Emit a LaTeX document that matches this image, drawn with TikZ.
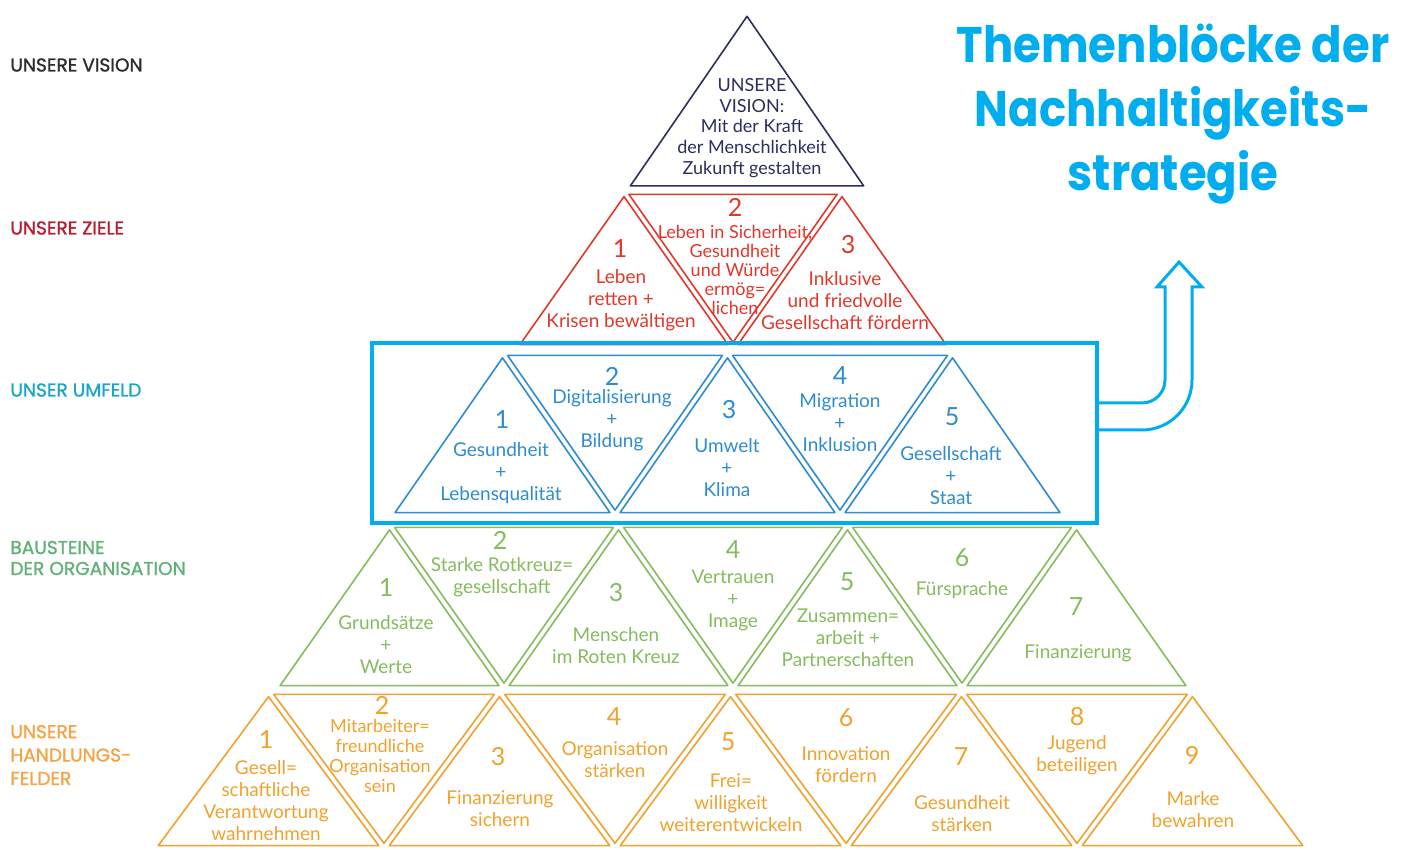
\documentclass[tikz,border=0pt]{standalone}
\usepackage{fontspec}
\newfontfamily\kopffont{Poppins}[FakeBold=1.2]
\newfontfamily\titelfont{Poppins}[FakeStretch=0.9]
\newfontfamily\hand{Lato}

\definecolor{visionblau}{HTML}{2B2F5E}
\definecolor{zielrot}{HTML}{E2382C}
\definecolor{umfeldblau}{HTML}{2E8CCF}
\definecolor{bausteingruen}{HTML}{86BB5E}
\definecolor{feldorange}{HTML}{F0A22E}
\definecolor{labelgrau}{HTML}{2D2D2D}
\definecolor{labelrot}{HTML}{B81C30}
\definecolor{labelblau}{HTML}{1AA6C9}
\definecolor{labelgruen}{HTML}{62B07A}
\definecolor{labelorange}{HTML}{F4A444}
\definecolor{titelblau}{HTML}{00AEEF}

\begin{document}
\begin{tikzpicture}[x=0.5pt, y=-0.5pt,
    ebene/.style={line width=0.8pt, line join=round},
    vision/.style={ebene, draw=visionblau},
    ziel/.style={ebene, draw=zielrot},
    umfeld/.style={ebene, draw=umfeldblau},
    baustein/.style={ebene, draw=bausteingruen},
    feld/.style={ebene, draw=feldorange},
    handtext/.style={align=center, inner sep=0pt,
                     font=\hand\fontsize{9.5}{11}\selectfont},
    engtext/.style={align=center, inner sep=0pt,
                    font=\hand\fontsize{9}{9.5}\selectfont},
    nummer/.style={inner sep=0pt, font=\hand\fontsize{12.5}{13}\selectfont},
    kopf/.style={anchor=west, align=left, inner sep=0pt,
                 font=\kopffont\fontsize{9.3}{10.5}\selectfont},
    themenbox/.style={draw=titelblau, line width=2pt, rectangle,
                      minimum width=362.5pt, minimum height=90pt, inner sep=0pt},
    pfeil/.style={draw=titelblau, line width=1.5pt, line join=miter}
  ]

    \fill[white] (0,0) rectangle (1410,850);
    \useasboundingbox (0,0) rectangle (1410,850);

    % labels on the left
    \node[kopf, text=labelgrau] (lvision) at (10,65) {UNSERE VISION};
    \node[kopf, text=labelrot] (lziele) at (10,228) {UNSERE ZIELE};
    \node[kopf, text=labelblau] (lumfeld) at (10,390) {UNSER UMFELD};
    \node[kopf, text=labelgruen] (lbausteine) at (10,558) {BAUSTEINE\\DER ORGANISATION};
    \node[kopf, text=labelorange, font=\kopffont\fontsize{9.3}{11.7}\selectfont] (lfelder) at (10,755)
        {UNSERE\\HANDLUNGS-\\FELDER};

    % vision
    \draw[vision, scale around={0.98:(747,129.3)}] (628,187) -- (747,14) -- (866,187) -- cycle;
    \node[handtext, text=visionblau, font=\hand\fontsize{9}{10.3}\selectfont] (vtext) at (752,128)
        {UNSERE\\VISION:\\Mit der Kraft\\der Menschlichkeit\\Zukunft gestalten};

    % ziele
    \draw[ziel, scale around={0.955:(624,295.3)}] (515,347) -- (624,192) -- (733,347) -- cycle;
    \draw[ziel, scale around={0.955:(733,243.7)}] (624,192) -- (842,192) -- (733,347) -- cycle;
    \draw[ziel, scale around={0.955:(842,295.3)}] (733,347) -- (842,192) -- (951,347) -- cycle;

    \node[nummer, text=zielrot] (z1n) at (620,249) {1};
    \node[handtext, text=zielrot] (z1) at (621,300) {Leben\\retten +\\Krisen bewältigen};
    \node[nummer, text=zielrot] (z2n) at (735,207) {2};
    \node[engtext, text=zielrot] (z2) at (735,270)
        {Leben in Sicherheit,\\Gesundheit\\und Würde\\ermög=\\lichen};
    \node[nummer, text=zielrot] (z3n) at (848,245) {3};
    \node[handtext, text=zielrot] (z3) at (845,301) {Inklusive\\und friedvolle\\Gesellschaft fördern};

    % umfeld
    \draw[umfeld, scale around={0.955:(502.5,461)}] (390,515) -- (502.5,353) -- (615,515) -- cycle;
    \draw[umfeld, scale around={0.955:(615,407)}] (502.5,353) -- (727.5,353) -- (615,515) -- cycle;
    \draw[umfeld, scale around={0.955:(727.5,461)}] (615,515) -- (727.5,353) -- (840,515) -- cycle;
    \draw[umfeld, scale around={0.955:(840,407)}] (727.5,353) -- (952.5,353) -- (840,515) -- cycle;
    \draw[umfeld, scale around={0.955:(952.5,461)}] (840,515) -- (952.5,353) -- (1065,515) -- cycle;

    \node[nummer, text=umfeldblau] (u1n) at (502,420) {1};
    \node[handtext, text=umfeldblau] (u1) at (501,473) {Gesundheit\\+\\Lebensqualität};
    \node[nummer, text=umfeldblau] (u2n) at (612,376) {2};
    \node[handtext, text=umfeldblau] (u2) at (612,420) {Digitalisierung\\+\\Bildung};
    \node[nummer, text=umfeldblau] (u3n) at (729,410) {3};
    \node[handtext, text=umfeldblau] (u3) at (727,468) {Umwelt\\+\\Klima};
    \node[nummer, text=umfeldblau] (u4n) at (840,376) {4};
    \node[handtext, text=umfeldblau] (u4) at (840,423) {Migration\\+\\Inklusion};
    \node[nummer, text=umfeldblau] (u5n) at (952,417) {5};
    \node[handtext, text=umfeldblau] (u5) at (951,476) {Gesellschaft\\+\\Staat};

    % bausteine
    \draw[baustein, scale around={0.955:(389.5,633.7)}] (275,688) -- (389.5,525) -- (504,688) -- cycle;
    \draw[baustein, scale around={0.955:(504,579.3)}] (389.5,525) -- (618.5,525) -- (504,688) -- cycle;
    \draw[baustein, scale around={0.955:(618.5,633.7)}] (504,688) -- (618.5,525) -- (733,688) -- cycle;
    \draw[baustein, scale around={0.955:(733,579.3)}] (618.5,525) -- (847.5,525) -- (733,688) -- cycle;
    \draw[baustein, scale around={0.955:(847.5,633.7)}] (733,688) -- (847.5,525) -- (962,688) -- cycle;
    \draw[baustein, scale around={0.955:(962,579.3)}] (847.5,525) -- (1076.5,525) -- (962,688) -- cycle;
    \draw[baustein, scale around={0.955:(1076.5,633.7)}] (962,688) -- (1076.5,525) -- (1191,688) -- cycle;

    \node[nummer, text=bausteingruen] (g1n) at (386,588) {1};
    \node[handtext, text=bausteingruen] (g1) at (386,645) {Grundsätze\\+\\Werte};
    \node[nummer, text=bausteingruen] (g2n) at (500,540) {2};
    \node[handtext, text=bausteingruen] (g2) at (502,577) {Starke Rotkreuz=\\gesellschaft};
    \node[nummer, text=bausteingruen] (g3n) at (616,593) {3};
    \node[handtext, text=bausteingruen] (g3) at (616,646) {Menschen\\im Roten Kreuz};
    \node[nummer, text=bausteingruen] (g4n) at (733,550) {4};
    \node[handtext, text=bausteingruen] (g4) at (733,600) {Vertrauen\\+\\Image};
    \node[nummer, text=bausteingruen] (g5n) at (847,582) {5};
    \node[handtext, text=bausteingruen] (g5) at (848,638) {Zusammen=\\arbeit +\\Partnerschaften};
    \node[nummer, text=bausteingruen] (g6n) at (962,558) {6};
    \node[handtext, text=bausteingruen] (g6) at (962,590) {Fürsprache};
    \node[nummer, text=bausteingruen] (g7n) at (1076,607) {7};
    \node[handtext, text=bausteingruen] (g7) at (1078,653) {Finanzierung};

    % handlungsfelder
    \draw[feld, scale around={0.955:(268.5,796)}] (153,848) -- (268.5,692) -- (384,848) -- cycle;
    \draw[feld, scale around={0.955:(384,744)}] (268.5,692) -- (499.5,692) -- (384,848) -- cycle;
    \draw[feld, scale around={0.955:(499.5,796)}] (384,848) -- (499.5,692) -- (615,848) -- cycle;
    \draw[feld, scale around={0.955:(615,744)}] (499.5,692) -- (730.5,692) -- (615,848) -- cycle;
    \draw[feld, scale around={0.955:(730.5,796)}] (615,848) -- (730.5,692) -- (846,848) -- cycle;
    \draw[feld, scale around={0.955:(846,744)}] (730.5,692) -- (961.5,692) -- (846,848) -- cycle;
    \draw[feld, scale around={0.955:(961.5,796)}] (846,848) -- (961.5,692) -- (1077,848) -- cycle;
    \draw[feld, scale around={0.955:(1077,744)}] (961.5,692) -- (1192.5,692) -- (1077,848) -- cycle;
    \draw[feld, scale around={0.955:(1192.5,796)}] (1077,848) -- (1192.5,692) -- (1308,848) -- cycle;

    \node[nummer, text=feldorange] (o1n) at (266,740) {1};
    \node[handtext, text=feldorange] (o1) at (266,801) {Gesell=\\schaftliche\\Verantwortung\\wahrnehmen};
    \node[nummer, text=feldorange] (o2n) at (382,705) {2};
    \node[engtext, text=feldorange, font=\hand\fontsize{9}{10}\selectfont] (o2) at (380,756)
        {Mitarbeiter=\\freundliche\\Organisation\\sein};
    \node[nummer, text=feldorange] (o3n) at (498,757) {3};
    \node[handtext, text=feldorange] (o3) at (500,809) {Finanzierung\\sichern};
    \node[nummer, text=feldorange] (o4n) at (614,717) {4};
    \node[handtext, text=feldorange] (o4) at (615,760) {Organisation\\stärken};
    \node[nummer, text=feldorange] (o5n) at (728,742) {5};
    \node[handtext, text=feldorange] (o5) at (731,803) {Frei=\\willigkeit\\weiterentwickeln};
    \node[nummer, text=feldorange] (o6n) at (846,718) {6};
    \node[handtext, text=feldorange] (o6) at (846,765) {Innovation\\fördern};
    \node[nummer, text=feldorange] (o7n) at (961,757) {7};
    \node[handtext, text=feldorange] (o7) at (962,814) {Gesundheit\\stärken};
    \node[nummer, text=feldorange] (o8n) at (1077,717) {8};
    \node[handtext, text=feldorange] (o8) at (1077,755) {Jugend\\beteiligen};
    \node[nummer, text=feldorange] (o9n) at (1192,755) {9};
    \node[handtext, text=feldorange] (o9) at (1193,810) {Marke\\bewahren};

    % highlight + title
    \node[themenbox] (block) at (734.5,433) {};

    \node[align=center, inner sep=0pt, text=titelblau,
          font=\titelfont\bfseries\fontsize{25}{32}\selectfont] (titel) at (1173,114)
        {Themenblöcke der\\Nachhaltigkeits-\\strategie};

    \draw[pfeil] ([yshift=15pt]block.east) -- ++(43,0) arc (90:0:23) -- ++(0,-93)
        -- ++(-8,0) -- ++(22,-25) -- ++(23,25) -- ++(-10,0) -- ++(0,93)
        arc (0:90:50) -- ([yshift=1.5pt]block.east);

\end{tikzpicture}
\end{document}
